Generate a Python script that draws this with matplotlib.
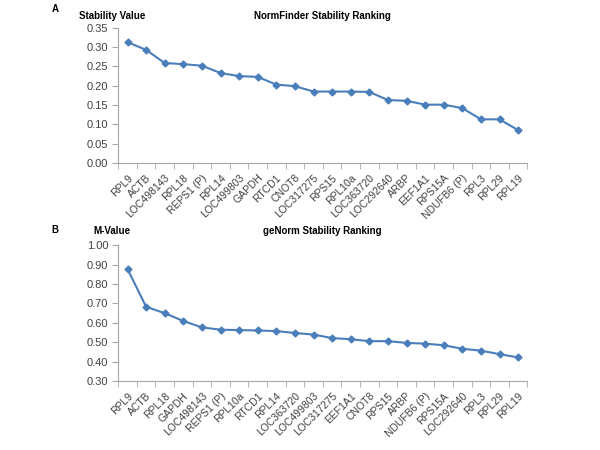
import matplotlib
matplotlib.use("Agg")
import matplotlib.pyplot as plt

plt.rcParams['font.family'] = ['Liberation Sans', 'DejaVu Sans']

# Panel A - NormFinder
nf_genes = ["RPL9", "ACTB", "LOC498143", "RPL18", "REPS1 (P)", "RPL14", "LOC499803",
            "GAPDH", "RTCD1", "CNOT8", "LOC317275", "RPS15", "RPL10a", "LOC363720",
            "LOC292640", "ARBP", "EEF1A1", "RPS15A", "NDUFB6 (P)", "RPL3", "RPL29", "RPL19"]
nf_values = [0.313, 0.293, 0.259, 0.256, 0.252, 0.233, 0.225, 0.223, 0.203, 0.199,
             0.185, 0.185, 0.185, 0.184, 0.163, 0.161, 0.151, 0.151, 0.142, 0.113,
             0.113, 0.085]

# Panel B - geNorm
gn_genes = ["RPL9", "ACTB", "RPL18", "GAPDH", "LOC498143", "REPS1 (P)", "RPL10a",
            "RTCD1", "RPL14", "LOC363720", "LOC499803", "LOC317275", "EEF1A1", "CNOT8",
            "RPS15", "ARBP", "NDUFB6 (P)", "RPS15A", "LOC292640", "RPL3", "RPL29", "RPL19"]
gn_values = [0.878, 0.683, 0.650, 0.610, 0.577, 0.565, 0.563, 0.561, 0.558, 0.548,
             0.540, 0.522, 0.516, 0.506, 0.506, 0.497, 0.493, 0.485, 0.467, 0.457,
             0.439, 0.422]

line_color = '#4a7ebb'
axis_color = '#a6a6a6'


def draw_panel(ax, genes, values, ylim, step, ylabel, title, letter, lab_off, let_off):
    x = list(range(len(genes)))
    ax.plot(x, values, color=line_color, lw=1.5, marker='D', ms=3.5,
            mfc=line_color, mec=line_color)
    ax.set_xlim(-0.5, len(genes) - 0.5)
    ax.set_ylim(*ylim)
    n = int(round((ylim[1] - ylim[0]) / step))
    yt = [ylim[0] + i * step for i in range(n + 1)]
    ax.set_yticks(yt)
    ax.set_yticklabels([f"{v:.2f}" for v in yt], fontsize=8, color='#404040')
    ax.set_xticks(x)
    ax.set_xticklabels(genes, rotation=45, ha='right', rotation_mode='anchor',
                       fontsize=7.5, color='#404040')
    ax.tick_params(axis='x', length=0, pad=7)
    ax.tick_params(axis='y', length=4, color=axis_color, pad=3)
    # category boundary ticks (Excel style)
    ax.set_xticks([i - 0.5 for i in range(len(genes) + 1)], minor=True)
    ax.tick_params(axis='x', which='minor', length=4, color=axis_color)
    for s in ['top', 'right']:
        ax.spines[s].set_visible(False)
    ax.spines['left'].set_color(axis_color)
    ax.spines['bottom'].set_color(axis_color)
    ax.annotate(ylabel, xy=(-0.015, 1.0), xycoords='axes fraction',
                xytext=(0, lab_off), textcoords='offset points',
                fontsize=7, fontweight='bold', ha='center', va='center')
    ax.annotate(title, xy=(0.5, 1.0), xycoords='axes fraction',
                xytext=(0, lab_off), textcoords='offset points',
                fontsize=7, fontweight='bold', ha='center', va='center')
    ax.annotate(letter, xy=(-0.154, 1.0), xycoords='axes fraction',
                xytext=(0, let_off), textcoords='offset points',
                fontsize=7, fontweight='bold', ha='center', va='center')


fig = plt.figure(figsize=(6, 4.5), dpi=100)
ax1 = fig.add_axes([0.197, 0.638, 0.682, 0.300])
ax2 = fig.add_axes([0.197, 0.153, 0.682, 0.302])

draw_panel(ax1, nf_genes, nf_values, (0.0, 0.35), 0.05, "Stability Value",
           "NormFinder Stability Ranking", "A", 8.6, 13.7)
draw_panel(ax2, gn_genes, gn_values, (0.3, 1.0), 0.1, "M-Value",
           "geNorm Stability Ranking", "B", 10.0, 10.8)

fig.savefig("out.png", dpi=100)
